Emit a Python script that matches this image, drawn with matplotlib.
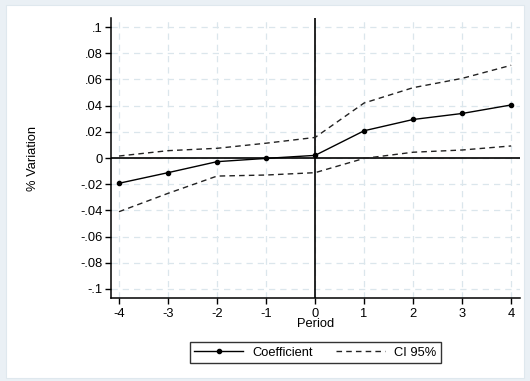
import matplotlib
matplotlib.use("Agg")
import matplotlib.pyplot as plt
from matplotlib.patches import Rectangle

periods = [-4, -3, -2, -1, 0, 1, 2, 3, 4]
coef = [-0.0193, -0.0112, -0.0028, -0.0003, 0.002, 0.0208, 0.0294, 0.0340, 0.0405]
ci_upper = [0.0015, 0.0056, 0.0074, 0.0113, 0.0157, 0.0420, 0.0537, 0.0608, 0.0708]
ci_lower = [-0.0410, -0.0270, -0.0138, -0.0130, -0.0112, -0.0003, 0.0044, 0.0061, 0.0092]
yticks = [-0.1, -0.08, -0.06, -0.04, -0.02, 0, 0.02, 0.04, 0.06, 0.08, 0.1]
ytick_labels = ["-.1", "-.08", "-.06", "-.04", "-.02", "0", ".02", ".04", ".06", ".08", ".1"]
xticks = [-4, -3, -2, -1, 0, 1, 2, 3, 4]

plt.rcParams['font.family'] = ['Liberation Sans', 'DejaVu Sans']
FS = 9.3

W, H = 530, 381
fig = plt.figure(figsize=(W/100, H/100), dpi=100)
fig.patch.set_facecolor('#eaf0f5')
fig.patches.append(Rectangle((6/W, 3/H), (524-6)/W, (376-3)/H, transform=fig.transFigure,
                             facecolor='white', edgecolor='#dfe8ee', linewidth=0.8, zorder=-10))

left, right, top, bottom = 111, 520, 18, 298
ax = fig.add_axes([left/W, 1-bottom/H, (right-left)/W, (bottom-top)/H])
ax.set_zorder(5)
ax.set_facecolor('white')

ax.set_xlim(-4.163, 4.18)
ax.set_ylim(-0.1069, 0.1069)

for x in xticks:
    ax.axvline(x, color='#dbe6ec', lw=0.9, ls=(0, (5, 4)), zorder=1)
for y in yticks:
    ax.axhline(y, color='#dbe6ec', lw=0.9, ls=(0, (5, 4)), zorder=1)

ax.axhline(0, color='black', lw=1.2, zorder=2)
ax.axvline(0, color='black', lw=1.2, zorder=2)

ax.plot(periods, coef, color='black', lw=1.0, marker='o', markersize=3.0,
        label='Coefficient', zorder=3)
ax.plot(periods, ci_upper, color='#222222', lw=1.0, ls=(0, (4, 3)), label='CI 95%', zorder=3)
ax.plot(periods, ci_lower, color='#222222', lw=1.0, ls=(0, (4, 3)), zorder=3)

ax.set_yticks(yticks)
ax.set_yticklabels(ytick_labels)
ax.set_xticks(xticks)
ax.set_xticklabels([str(v) for v in xticks])
ax.tick_params(axis='both', direction='out', length=4, width=1, labelsize=FS, colors='black')
ax.tick_params(axis='y', pad=2)
ax.tick_params(axis='x', pad=3)

for s in ['top', 'right']:
    ax.spines[s].set_visible(False)
for s in ['left', 'bottom']:
    ax.spines[s].set_linewidth(1.1)

ax.set_xlabel('Period', fontsize=FS, labelpad=-1)
fig.text(33/W, 1-158/H, '% Variation', rotation=90, ha='center', va='center', fontsize=FS)

h, l = ax.get_legend_handles_labels()
leg = fig.legend(h, l, loc='center', bbox_to_anchor=(315.5/W, 1-352.5/H), ncol=2,
                 fontsize=FS, frameon=True, fancybox=False, handlelength=3.8,
                 columnspacing=1.8, borderpad=0.35, handletextpad=0.7)
leg.get_frame().set_edgecolor('black')
leg.get_frame().set_linewidth(1.0)

fig.savefig('out.png', dpi=100, facecolor=fig.get_facecolor())
